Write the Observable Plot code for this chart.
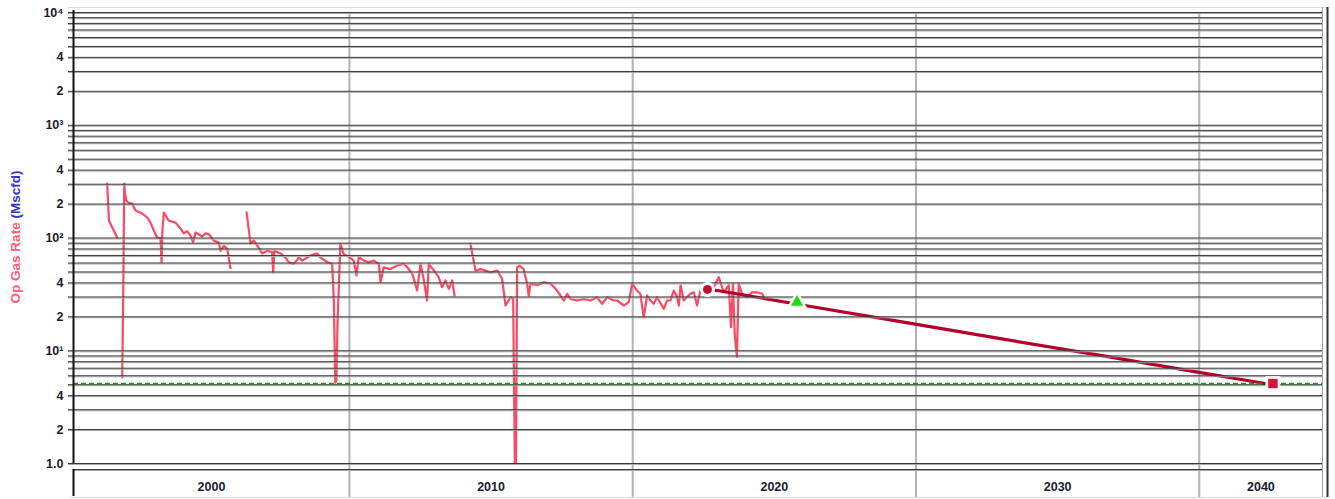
<!DOCTYPE html>
<html>
<head>
<meta charset="utf-8">
<script src="https://cdn.jsdelivr.net/npm/d3@7"></script>
<script src="https://cdn.jsdelivr.net/npm/@observablehq/plot@0.6"></script>
<style>
  body { margin: 0; background: #fff; }
  #chart { width: 1335px; height: 499px; }
</style>
</head>
<body>
<div id="chart"></div>
<script>
// ---------- data ----------
const histYear = [
  1996.45, 1996.51, 1996.65, 1996.80, 1996.85,
  1996.98, 1997.02, 1997.05, 1997.08, 1997.12, 1997.20, 1997.33, 1997.45, 1997.68, 1997.86, 1997.98,
  1998.09, 1998.21, 1998.33, 1998.37, 1998.40, 1998.45, 1998.62, 1998.86, 1999.04, 1999.15, 1999.27,
  1999.39, 1999.48, 1999.57, 1999.68, 1999.80, 1999.92, 2000.04, 2000.21, 2000.39, 2000.45, 2000.57,
  2000.69, 2000.80, 2000.90,
  2001.37, 2001.51, 2001.62, 2001.80, 2001.92, 2002.10, 2002.27, 2002.31, 2002.35, 2002.57, 2002.74,
  2002.86, 2003.04, 2003.21, 2003.33, 2003.63, 2003.86, 2003.98, 2004.22, 2004.39, 2004.45, 2004.50,
  2004.54, 2004.58, 2004.68, 2004.80, 2004.98, 2005.15, 2005.25, 2005.33, 2005.51, 2005.68, 2005.86,
  2006.04, 2006.10, 2006.21, 2006.45, 2006.69, 2006.92, 2007.04, 2007.22, 2007.39, 2007.51, 2007.63,
  2007.74, 2007.80, 2007.98, 2008.15, 2008.27, 2008.39, 2008.51, 2008.63, 2008.71, 2008.90,
  2009.27, 2009.45, 2009.63, 2009.80, 2009.98, 2010.22, 2010.39, 2010.51, 2010.69, 2010.78, 2010.84,
  2010.88, 2010.92, 2011.00, 2011.15, 2011.27, 2011.33, 2011.39, 2011.63, 2011.86, 2012.10, 2012.33,
  2012.45, 2012.57, 2012.69, 2012.80, 2013.04, 2013.27, 2013.51, 2013.74, 2013.92, 2014.10, 2014.33,
  2014.45, 2014.69, 2014.86, 2014.98, 2015.15, 2015.27, 2015.39, 2015.51, 2015.63, 2015.74, 2015.86,
  2016.10, 2016.21, 2016.33, 2016.45, 2016.57, 2016.63, 2016.69, 2016.80, 2017.04, 2017.16, 2017.27,
  2017.39, 2017.64, 2017.86, 2018.04, 2018.21, 2018.39, 2018.47, 2018.54, 2018.60, 2018.68, 2018.74,
  2018.86, 2019.04, 2019.21, 2019.39, 2019.57, 2019.63
];
const histRate = [
  304, 143, 121, 101, null,
  5.8, 40, 304, 250, 215, 205, 202, 175, 165, 152, 137,
  117, 101, 100, 61, 120, 168, 143, 137, 121, 110, 115,
  105, 92, 112, 108, 103, 110, 108, 95, 91, 77, 85,
  80, 54, null,
  169, 89, 95, 82, 73, 77, 75, 49.5, 77, 73, 67,
  61, 59, 67, 63, 70, 73, 67, 61, 59, 28, 5.2,
  5.5, 17.5, 89, 72, 68, 63, 46.5, 68, 63, 61, 63,
  59, 40.5, 55, 53, 57, 59, 55, 48, 34.2, 59, 42,
  27.9, 59, 51.5, 45, 36.6, 42, 35.4, 42, 30.9, null,
  89, 51.5, 53, 51.5, 49.5, 51.5, 43.5, 25.2, 29.8, 29, 1.0,
  1.0, 55, 57, 53, 39.4, 30.9, 39.4, 38.1, 40.5, 39.4, 34.2,
  30.9, 27.9, 32, 28.8, 27.9, 28.8, 27.9, 29.8, 26.1, 29.8, 27.9,
  27.9, 25.2, 27, 39.4, 34.2, 32, 19.8, 30.9, 27.9, 26.1, 29.8,
  23.5, 27.9, 27.9, 34.2, 29.8, 25.2, 38.1, 27.9, 32, 33, 25.2,
  34.2, 35, 36.6, 45, 33, 38.1, 16.2, 39.4, 14.1, 8.8, 39.4,
  32, 29.8, 33, 33, 32, 29.8
];
const fcstYear = [2017.64, 2017.99, 2019.50, 2020.92, 2024.45, 2027.98, 2031.51, 2035.04, 2037.33];
const fcstRate = [35.0, 34.2, 29.5, 25.6, 18.1, 12.8, 9.1, 6.4, 5.12];
const markerYear = [2017.64, 2020.80, 2037.60];
const markerRate = [35.0, 27.0, 5.12];
const markerSymbol = ["circle", "triangle", "square"];
const markerColor = ["#c0122e", "#1fdc1f", "#d8133c"];
const markerR = [4.5, 4.6, 5.3];
const econLimit = 5.1;
const yTickValues = [1, 2, 4, 10, 20, 40, 100, 200, 400, 1000, 2000, 4000, 10000];
const yTickLabels = ["1.0", "2", "4", "10¹", "2", "4", "10²", "2", "4", "10³", "2", "4", "10⁴"];
const decadeLabels = ["2000", "2010", "2020", "2030", "2040"];
const decadeYears = [2000, 2010, 2020, 2030, 2040];
const xGridYears = [2005, 2015, 2025, 2035];
const xDomain = [1995.26, 2039.35];

// ---------- derived tables ----------
const hist = histYear.map((t, i) => ({t, v: histRate[i]}));
const fcst = fcstYear.map((t, i) => ({t, v: fcstRate[i]}));
const markers = markerYear.map((t, i) => ({t, v: markerRate[i], s: markerSymbol[i], c: markerColor[i], r: markerR[i]}));
const gridVals = d3.range(0, 4).flatMap(e => d3.range(1, 10).map(m => m * 10 ** e)).concat([1e4]);
const yTicks = yTickValues.map((v, i) => ({v, label: yTickLabels[i]}));
// decade labels centred in the visible part of each decade span
const decades = decadeYears.map((c, i) => ({
  x: (Math.max(c - 5, xDomain[0]) + Math.min(c + 5, xDomain[1])) / 2,
  label: decadeLabels[i]
}));

const font = "'Liberation Sans', Arial, sans-serif";
const dark = "#1b1b2e";

const chart = Plot.plot({
  width: 1335,
  height: 499,
  marginLeft: 73,
  marginRight: 13,
  marginTop: 12,
  marginBottom: 36,
  style: {background: "#fff", fontFamily: font, overflow: "visible"},
  x: {domain: xDomain, axis: null},
  y: {type: "log", domain: [1, 1e4], axis: null},
  r: {type: "identity"},
  color: {type: "identity"},
  symbol: {type: "identity"},
  marks: [
    // outer light border
    Plot.ruleY([1e4], {dy: -5, insetLeft: -5, insetRight: -5, stroke: "#dcdcdc", strokeWidth: 1}),
    Plot.ruleY([1], {dy: 34, insetLeft: -3, insetRight: -5, stroke: "#dcdcdc", strokeWidth: 1}),
    // vertical grid (through the date strip)
    Plot.ruleX(xGridYears, {stroke: "#b3b3b3", strokeWidth: 2, insetBottom: -34}),
    // data
    Plot.line(hist, {x: "t", y: "v", stroke: "#ff4862", strokeWidth: 2.2, clip: true}),
    Plot.line(fcst, {x: "t", y: "v", stroke: "#b5002b", strokeWidth: 3.2}),
    // horizontal grid on top
    Plot.ruleY(gridVals, {stroke: "#a8a8a8", strokeWidth: 1, dy: 1, insetLeft: -5}),
    Plot.ruleY(gridVals, {stroke: "#3a3a3a", strokeWidth: 1, insetLeft: -5}),
    // economic limit
    Plot.ruleY([econLimit], {stroke: "#1f8f1f", strokeWidth: 2, strokeDasharray: "5,3"}),
    // left axis line
    Plot.ruleX([xDomain[0]], {stroke: "#111", strokeWidth: 2, insetTop: -2}),
    // date strip frame
    Plot.ruleY([1], {dy: 6, stroke: "#3a3a3a", strokeWidth: 1}),
    Plot.ruleY([1], {dy: 7, stroke: "#a8a8a8", strokeWidth: 1}),
    Plot.ruleX([xDomain[0]], {y1: 1, y2: 1, insetTop: 6, insetBottom: -33, stroke: "#111", strokeWidth: 2}),
    // right frame
    Plot.ruleX([xDomain[1]], {stroke: "#a0a0a0", strokeWidth: 1, insetTop: -5, insetBottom: -34}),
    Plot.ruleX([xDomain[1]], {dx: 5, stroke: "#333", strokeWidth: 2, insetTop: -5, insetBottom: -34}),
    // markers with white halo
    Plot.dot(markers, {x: "t", y: "v", symbol: "s", r: d => d.r + 3, fill: "white", stroke: "none"}),
    Plot.dot(markers, {x: "t", y: "v", symbol: "s", r: "r", fill: "c", stroke: "none"}),
    // y tick labels
    Plot.text(yTicks, {
      x: () => xDomain[0], y: "v", text: "label", textAnchor: "end", dx: -10,
      fontSize: 12.5, fontWeight: "bold", fill: dark
    }),
    // decade labels in the date strip
    Plot.text(decades, {
      x: "x", y: () => 1, dy: 23, text: "label",
      fontSize: 12.5, fontWeight: "bold", fill: dark
    })
  ]
});

// y title: two colours
const svg = d3.select(chart);
const title = svg.append("text")
  .attr("transform", "translate(20,237) rotate(-90)")
  .attr("text-anchor", "middle")
  .attr("font-family", font)
  .attr("font-weight", "bold")
  .attr("font-size", 13.5);
title.append("tspan").attr("fill", "#ff5a78").text("Op Gas Rate ");
title.append("tspan").attr("fill", "#3535c4").text("(Mscfd)");

document.getElementById("chart").appendChild(chart);
</script>
</body>
</html>
